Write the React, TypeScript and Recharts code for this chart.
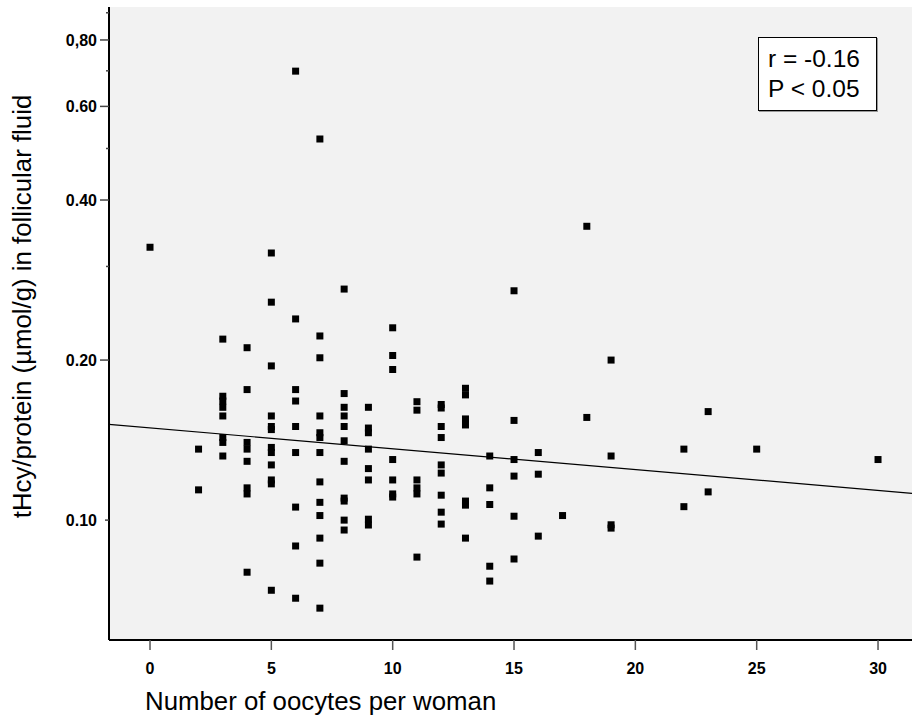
import React from 'react';
import {
  ScatterChart,
  Scatter,
  XAxis,
  YAxis,
  CartesianGrid,
  ReferenceLine,
  Label,
} from 'recharts';

// Number of oocytes per woman (x categories that carry points)
const oocyteCounts = [0, 2, 3, 4, 5, 6, 7, 8, 9, 10, 11, 12, 13, 14, 15, 16, 17, 18, 19, 22, 23, 25, 30];

// tHcy/protein (µmol/g) values for each oocyte count above
const ratioValues: number[][] = [
  [0.326],
  [0.136, 0.114],
  [0.219, 0.171, 0.1675, 0.163, 0.157, 0.143, 0.14, 0.132],
  [0.211, 0.176, 0.14, 0.136, 0.129, 0.115, 0.112, 0.0798],
  [0.318, 0.257, 0.195, 0.157, 0.15, 0.148, 0.137, 0.134, 0.127, 0.119, 0.117, 0.0738],
  [0.699, 0.239, 0.176, 0.1675, 0.15, 0.134, 0.1058, 0.0894, 0.0713],
  [0.521, 0.222, 0.202, 0.157, 0.146, 0.143, 0.134, 0.118, 0.108, 0.102, 0.0925, 0.083, 0.0683],
  [0.272, 0.173, 0.163, 0.157, 0.15, 0.141, 0.129, 0.11, 0.1086, 0.1, 0.0958],
  [0.163, 0.149, 0.146, 0.136, 0.125, 0.119, 0.1004, 0.0979],
  [0.23, 0.204, 0.192, 0.13, 0.119, 0.112, 0.1105],
  [0.167, 0.161, 0.119, 0.115, 0.112, 0.0852],
  [0.165, 0.1625, 0.15, 0.143, 0.127, 0.1226, 0.1114, 0.1035, 0.0983],
  [0.177, 0.172, 0.155, 0.151, 0.1086, 0.1067, 0.0925],
  [0.132, 0.115, 0.107, 0.0819, 0.0768],
  [0.27, 0.154, 0.13, 0.121, 0.1017, 0.0845],
  [0.134, 0.122, 0.0933],
  [0.102],
  [0.357, 0.156],
  [0.2, 0.132, 0.098, 0.0966],
  [0.136, 0.106],
  [0.16, 0.113],
  [0.136],
  [0.13],
];

const xTicks = [0, 5, 10, 15, 20, 25, 30];
const yTicks = [0.1, 0.2, 0.3, 0.4, 0.5, 0.6, 0.7, 0.8, 0.9];
const yTickLabels: Record<string, string> = {
  '0.1': '0.10',
  '0.2': '0.20',
  '0.4': '0.40',
  '0.6': '0.60',
  '0.8': '0,80',
};
const xDomain = [-1.69, 31.4];
const yDomain = [0.0595, 0.9228];

// Regression line endpoints (fit, log-y)
const fitLine = [
  { x: -1.69, y: 0.1514 },
  { x: 31.4, y: 0.1123 },
];

const statLines = ['r = -0.16', 'P < 0.05'];
const xTitle = 'Number of oocytes per woman';
const yTitle = 'tHcy/protein (\u00b5mol/g) in follicular fluid';

const FONT = '"Liberation Sans", Arial, Helvetica, sans-serif';

const data = oocyteCounts.flatMap((c, i) => ratioValues[i].map((v) => ({ x: c, y: v })));

const SquareMarker = (props: any) => {
  const { cx, cy } = props;
  if (cx == null || cy == null) return null;
  return <rect x={cx - 3.5} y={cy - 3.5} width={7} height={7} fill="#000" />;
};

const YTick = (props: any) => {
  const { x, y, payload } = props;
  const label = yTickLabels[String(payload.value)];
  const len = label ? (payload.value === 0.1 ? 4 : 9) : 3;
  return (
    <g>
      <line x1={x - len} x2={x} y1={y} y2={y} stroke="#444" strokeWidth={1.5} />
      {label && (
        <text
          x={x - 12}
          y={y}
          dy={5.6}
          textAnchor="end"
          fontFamily={FONT}
          fontWeight="bold"
          fontSize={16}
          fill="#000"
        >
          {label}
        </text>
      )}
    </g>
  );
};

const XTick = (props: any) => {
  const { x, y, payload } = props;
  return (
    <g>
      <line x1={x} x2={x} y1={y} y2={y + 10} stroke="#555" strokeWidth={1.5} />
      <text
        x={x}
        y={y + 33.5}
        textAnchor="middle"
        fontFamily={FONT}
        fontWeight="bold"
        fontSize={16}
        fill="#000"
      >
        {payload.value}
      </text>
    </g>
  );
};

export default function App() {
  return (
    <div style={{ position: 'absolute', left: 0, top: 0, width: 912, height: 716, background: '#fff' }}>
      <ScatterChart width={912} height={716} margin={{ top: 7, right: 0, bottom: 0, left: 0 }}>
        <CartesianGrid fill="#f2f2f2" horizontal={false} vertical={false} stroke="none" />
        <XAxis
          xAxisId="top"
          orientation="top"
          type="number"
          dataKey="x"
          domain={xDomain}
          height={0}
          tick={false}
          tickLine={false}
          axisLine={{ stroke: '#7f7f7f', strokeWidth: 2 }}
          allowDataOverflow
        />
        <XAxis
          type="number"
          dataKey="x"
          domain={xDomain}
          ticks={xTicks}
          interval={0}
          allowDataOverflow
          height={76}
          tickSize={0}
          tickMargin={0}
          tickLine={false}
          tick={<XTick />}
          axisLine={{ stroke: '#000', strokeWidth: 2 }}
        >
          <Label
            content={(p: any) => {
              const vb = p.viewBox || { x: 109, y: 640 };
              return (
                <text x={vb.x + 36} y={vb.y + 70} fontFamily={FONT} fontSize={25.8} fill="#000">
                  {xTitle}
                </text>
              );
            }}
          />
        </XAxis>
        <YAxis
          type="number"
          dataKey="y"
          scale="log"
          domain={yDomain}
          ticks={yTicks}
          interval={0}
          allowDataOverflow
          width={109}
          tickSize={0}
          tickMargin={0}
          tickLine={false}
          tick={<YTick />}
          axisLine={{ stroke: '#000', strokeWidth: 2 }}
        >
          <Label
            content={(p: any) => {
              const vb = p.viewBox || { x: 0, y: 7, width: 109, height: 633 };
              const cx = vb.x + 31;
              const cy = vb.y + vb.height / 2 - 17;
              return (
                <text
                  x={cx}
                  y={cy}
                  transform={`rotate(-90, ${cx}, ${cy})`}
                  textAnchor="middle"
                  fontFamily={FONT}
                  fontSize={25.8}
                  fill="#000"
                >
                  {yTitle}
                </text>
              );
            }}
          />
        </YAxis>
        <ReferenceLine segment={fitLine} stroke="#000" strokeWidth={1.2} ifOverflow="visible" />
        <Scatter data={data} shape={<SquareMarker />} isAnimationActive={false} />
      </ScatterChart>
      <div
        style={{
          position: 'absolute',
          left: 758,
          top: 37,
          width: 119,
          height: 74,
          boxSizing: 'border-box',
          border: '1px solid #000',
          background: '#fff',
          boxShadow: '1px 1px 0 #999',
          fontFamily: FONT,
          fontSize: 24.5,
          lineHeight: '30px',
          paddingTop: 5.5,
          paddingLeft: 9,
          color: '#000',
          whiteSpace: 'nowrap',
        }}
      >
        {statLines.map((t) => (
          <div key={t}>{t}</div>
        ))}
      </div>
    </div>
  );
}
